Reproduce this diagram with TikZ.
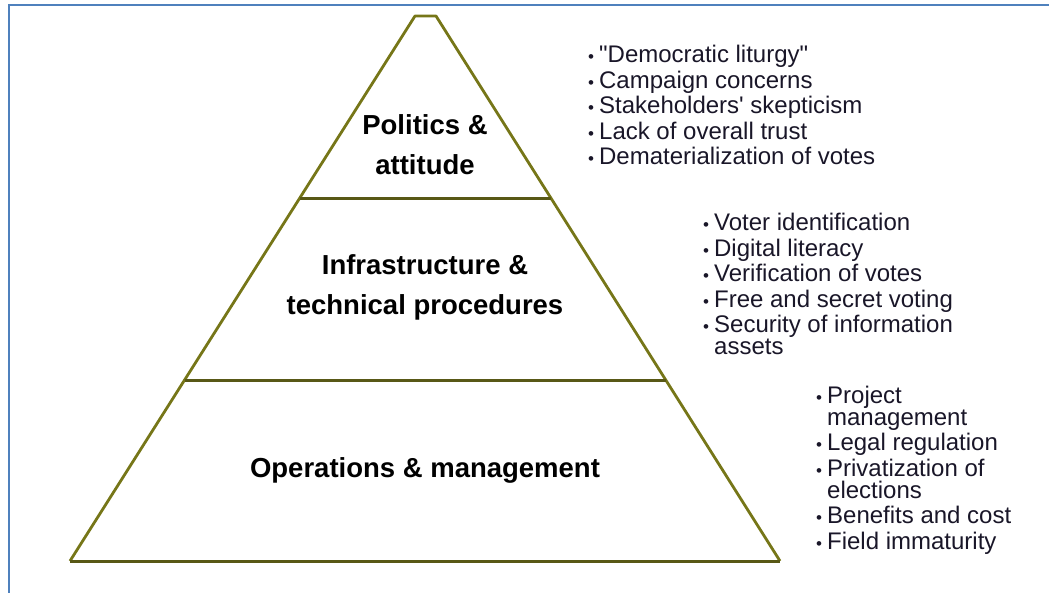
\documentclass[tikz,border=0pt]{standalone}
\usepackage{fontspec}
\newfontfamily\arialfont{Liberation Sans}
\usetikzlibrary{calc}

\definecolor{frameblue}{RGB}{79,129,189}
\definecolor{pyrolive}{RGB}{118,118,24}
\definecolor{baseolive}{RGB}{88,88,22}
\definecolor{listink}{RGB}{25,22,40}

\tikzset{
  pyrline/.style={pyrolive, line width=2.8pt, line join=round},
  levelline/.style={baseolive, line width=3pt},
  levelname/.style={font=\arialfont\bfseries\fontsize{27.5}{40}\selectfont, align=center, inner sep=0pt},
  bulletlist/.style={anchor=base west, inner sep=0pt, text=listink, font=\arialfont\fontsize{24}{25.5}\selectfont}
}
\newcommand{\bul}{{\fontsize{17}{17}\selectfont\textbullet}}

\begin{document}
\begin{tikzpicture}[x=1pt,y=-1pt]
\useasboundingbox (0,0) rectangle (1049,593);
% frame
\draw [frameblue, line width=2pt] (9,593) -- (9,5) -- (1049,5) ;
% pyramid
\coordinate (topL) at (415,16);
\coordinate (topR) at (436,16);
\coordinate (baseL) at (70,561);
\coordinate (baseR) at (780,561);
\draw [pyrline] (baseL) -- (topL) -- (topR) -- (baseR) ;
\draw [levelline] (baseL) -- (baseR) ;
\draw [levelline] ($(topL)!0.334!(baseL)$) -- ($(topR)!0.334!(baseR)$) ;
\draw [levelline] ($(topL)!0.668!(baseL)$) -- ($(topR)!0.668!(baseR)$) ;
% level names
\node [levelname] (politics) at (425,145) {Politics \&\\attitude};
\node [levelname] (infra) at (425,287) {Infrastructure \&\\technical procedures};
\node [levelname] (operations) at (425,470) {Operations \& management};
% bullet lists
\node [bulletlist] (politicslist) at (588,63) {\begin{tabular}[t]{@{}l@{\hspace{5pt}}l@{}}
\bul & "Democratic liturgy"\\
\bul & Campaign concerns\\
\bul & Stakeholders' skepticism\\
\bul & Lack of overall trust\\
\bul & Dematerialization of votes
\end{tabular}};
\node [bulletlist] (infralist) at (703,231) {\begin{tabular}[t]{@{}l@{\hspace{5pt}}l@{}}
\bul & Voter identification\\
\bul & Digital literacy\\
\bul & Verification of votes\\
\bul & Free and secret voting\\
\bul & Security of information\\[-3.5pt]
 & assets
\end{tabular}};
\node [bulletlist] (operationslist) at (816,403) {\begin{tabular}[t]{@{}l@{\hspace{5pt}}l@{}}
\bul & Project\\[-3.5pt]
 & management\\
\bul & Legal regulation\\
\bul & Privatization of\\[-3.5pt]
 & elections\\
\bul & Benefits and cost\\
\bul & Field immaturity
\end{tabular}};
\end{tikzpicture}
\end{document}
